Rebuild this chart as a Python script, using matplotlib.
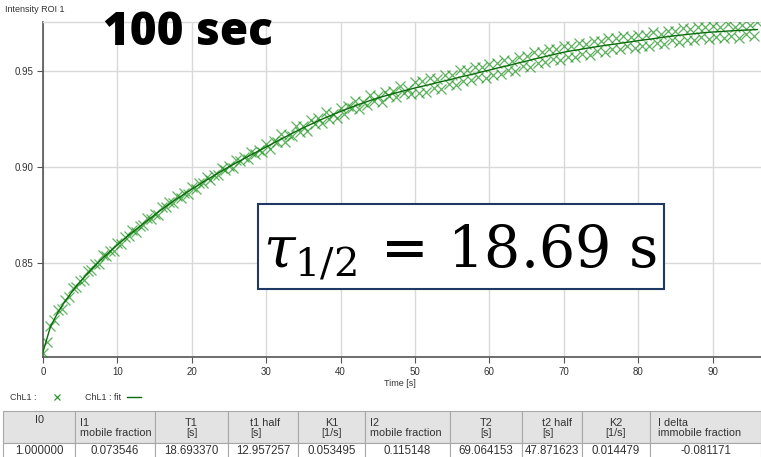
"""
FRAP recovery curve, ROI 1 (100 sec acquisition)
Scatter of measured intensity + fit line, with the fit parameter table below.
"""

import numpy as np
import matplotlib
matplotlib.use("Agg")
import matplotlib.pyplot as plt
from matplotlib.patches import Rectangle
from matplotlib.lines import Line2D

# ─── Data ─────────────────────────────────────────────────────────────────────

DATA_T = np.arange(0, 96.01, 0.5)          # sample times [s]
DATA_I = [
    0.8035, 0.8093, 0.8176, 0.8204, 0.8259, 0.8262, 0.8307, 0.8323, 0.8373, 0.8376,
    0.8410, 0.8412, 0.8460, 0.8465, 0.8497, 0.8496, 0.8542, 0.8537, 0.8565, 0.8565,
    0.8606, 0.8601, 0.8635, 0.8641, 0.8675, 0.8664, 0.8694, 0.8698, 0.8737, 0.8731,
    0.8757, 0.8752, 0.8793, 0.8792, 0.8818, 0.8812, 0.8852, 0.8842, 0.8864, 0.8860,
    0.8896, 0.8886, 0.8916, 0.8918, 0.8948, 0.8933, 0.8959, 0.8960, 0.8995, 0.8985,
    0.9007, 0.8998, 0.9035, 0.9031, 0.9053, 0.9044, 0.9081, 0.9068, 0.9088, 0.9081,
    0.9123, 0.9094, 0.9137, 0.9129, 0.9171, 0.9133, 0.9170, 0.9160, 0.9213, 0.9185,
    0.9214, 0.9187, 0.9245, 0.9227, 0.9257, 0.9230, 0.9287, 0.9253, 0.9279, 0.9257,
    0.9308, 0.9276, 0.9316, 0.9306, 0.9345, 0.9304, 0.9338, 0.9325, 0.9374, 0.9343,
    0.9369, 0.9339, 0.9393, 0.9372, 0.9398, 0.9367, 0.9421, 0.9384, 0.9407, 0.9382,
    0.9444, 0.9388, 0.9447, 0.9392, 0.9466, 0.9410, 0.9461, 0.9407, 0.9479, 0.9432,
    0.9482, 0.9428, 0.9506, 0.9447, 0.9506, 0.9451, 0.9519, 0.9471, 0.9523, 0.9465,
    0.9537, 0.9481, 0.9541, 0.9486, 0.9560, 0.9504, 0.9554, 0.9500, 0.9573, 0.9526,
    0.9576, 0.9522, 0.9600, 0.9541, 0.9600, 0.9545, 0.9613, 0.9565, 0.9616, 0.9558,
    0.9630, 0.9573, 0.9631, 0.9574, 0.9647, 0.9590, 0.9639, 0.9583, 0.9654, 0.9605,
    0.9654, 0.9598, 0.9674, 0.9613, 0.9670, 0.9613, 0.9680, 0.9630, 0.9679, 0.9619,
    0.9690, 0.9632, 0.9689, 0.9632, 0.9704, 0.9646, 0.9695, 0.9639, 0.9709, 0.9660,
    0.9708, 0.9651, 0.9726, 0.9664, 0.9721, 0.9663, 0.9729, 0.9678, 0.9727, 0.9666,
    0.9735, 0.9675, 0.9731, 0.9673, 0.9744, 0.9684, 0.9731, 0.9673, 0.9742, 0.9691,
    0.9738, 0.9680, 0.9754,
]

FIT_T = list(range(0, 97))
FIT_I = [
    0.8040, 0.8170, 0.8245, 0.8305, 0.8358, 0.8405, 0.8448, 0.8488, 0.8526, 0.8562,
    0.8596, 0.8629, 0.8661, 0.8692, 0.8722, 0.8752, 0.8781, 0.8809, 0.8836, 0.8861,
    0.8886, 0.8910, 0.8934, 0.8957, 0.8980, 0.9002, 0.9023, 0.9044, 0.9065, 0.9085,
    0.9105, 0.9126, 0.9146, 0.9166, 0.9186, 0.9205, 0.9223, 0.9241, 0.9258, 0.9274,
    0.9290, 0.9305, 0.9320, 0.9334, 0.9347, 0.9360, 0.9371, 0.9382, 0.9392, 0.9402,
    0.9412, 0.9421, 0.9430, 0.9440, 0.9449, 0.9458, 0.9468, 0.9477, 0.9486, 0.9496,
    0.9505, 0.9515, 0.9524, 0.9533, 0.9543, 0.9552, 0.9562, 0.9571, 0.9580, 0.9589,
    0.9598, 0.9605, 0.9611, 0.9618, 0.9624, 0.9630, 0.9636, 0.9641, 0.9647, 0.9652,
    0.9658, 0.9663, 0.9668, 0.9674, 0.9679, 0.9684, 0.9688, 0.9692, 0.9696, 0.9700,
    0.9703, 0.9705, 0.9708, 0.9710, 0.9712, 0.9714, 0.9716,
]

X_TICKS = [0, 10, 20, 30, 40, 50, 60, 70, 80, 90]
Y_TICKS = [0.85, 0.90, 0.95]

HEADERS = ["I0", "I1\nmobile fraction", "T1\n[s]", "t1 half\n[s]", "K1\n[1/s]",
           "I2\nmobile fraction", "T2\n[s]", "t2 half\n[s]", "K2\n[1/s]",
           "I delta\nimmobile fraction"]
VALUES = ["1.000000", "0.073546", "18.693370", "12.957257", "0.053495",
          "0.115148", "69.064153", "47.871623", "0.014479", "-0.081171"]

# ─── Style ────────────────────────────────────────────────────────────────────

W, H = 761, 457
SMALL = ["Liberation Sans Narrow", "Liberation Sans", "DejaVu Sans"]
GREEN = "#1c921c"
FIT_GREEN = "#0b6b0b"
GRID = "#d9d9d9"

plt.rcParams["mathtext.fontset"] = "dejavuserif"


def fx(px):
    return px / W


def fy(py):
    return 1 - py / H


fig = plt.figure(figsize=(W / 100, H / 100), dpi=100)
ax = fig.add_axes([fx(43), fy(357), fx(761 - 43), (357 - 22) / H])

# ─── Curve ────────────────────────────────────────────────────────────────────

ax.plot(DATA_T, DATA_I, linestyle="none", marker="x", ms=6.5, mew=0.9,
        color=GREEN, alpha=0.7, zorder=3)
ax.plot(FIT_T, FIT_I, color=FIT_GREEN, lw=1.0, zorder=4)

ax.set_xlim(0, 96.5)
ax.set_ylim(0.8013, 0.9755)
ax.set_xticks(X_TICKS)
ax.set_yticks(Y_TICKS)
ax.set_yticklabels([f"{v:.2f}" for v in Y_TICKS])
ax.tick_params(length=4, width=0.8, color="#555555", labelsize=7,
               labelcolor="#333333", pad=3)
for lab in ax.get_xticklabels() + ax.get_yticklabels():
    lab.set_family(SMALL)

ax.grid(True, color=GRID, lw=1.0, zorder=0)
ax.spines["right"].set_visible(False)
ax.spines["top"].set_color(GRID)
ax.spines["top"].set_linewidth(1.0)
for side in ["left", "bottom"]:
    ax.spines[side].set_color("#555555")
    ax.spines[side].set_linewidth(1.2)

fig.text(fx(5), fy(10), "Intensity ROI 1", fontsize=6.5, family=SMALL,
         color="#333333", va="center", ha="left")
fig.text(fx(400), fy(383), "Time [s]", fontsize=6.5, family=SMALL,
         color="#333333", va="center", ha="center")

fig.text(fx(103), fy(45), "100 sec", fontsize=33, family="Open Sans",
         weight="heavy", color="black", va="baseline", ha="left", zorder=6)

# tau box
fig.add_artist(Rectangle((fx(258), fy(289)), fx(406), 85 / H,
                         transform=fig.transFigure, facecolor="white",
                         edgecolor="#1f3864", lw=1.5, zorder=5))
fig.text(fx(460), fy(267), r"$\tau_{1/2}\,=\,18.69\ \mathrm{s}$", fontsize=41,
         color="black", ha="center", va="baseline", zorder=6)

# ─── Legend line ──────────────────────────────────────────────────────────────

fig.text(fx(10), fy(397), "ChL1 :", fontsize=6.5, family=SMALL, color="#333333",
         va="center", ha="left")
fig.add_artist(Line2D([fx(57)], [fy(397)], marker="x", ms=5, mew=0.8,
                      color=GREEN, linestyle="none", transform=fig.transFigure))
fig.text(fx(85), fy(397), "ChL1 : fit", fontsize=6.5, family=SMALL,
         color="#333333", va="center", ha="left")
fig.add_artist(Line2D([fx(127), fx(141)], [fy(397), fy(397)], color=FIT_GREEN,
                      lw=1.0, transform=fig.transFigure))

# ─── Parameter table ──────────────────────────────────────────────────────────

col_edges = [3, 75, 155, 228, 298, 365, 450, 522, 582, 650, 761]
head_top, head_bot, row_bot = 411, 443, 458
left_cols = {1: 5, 3: 22, 5: 5, 7: 20, 9: 8}   # left-aligned headers and indent

for i, (hdr, val) in enumerate(zip(HEADERS, VALUES)):
    x0, x1 = col_edges[i], col_edges[i + 1]
    fig.add_artist(Rectangle((fx(x0), fy(head_bot)), fx(x1 - x0),
                             (head_bot - head_top) / H, transform=fig.transFigure,
                             facecolor="#e3e3e3", edgecolor="#a8a8a8", lw=0.8))
    fig.add_artist(Rectangle((fx(x0), fy(row_bot)), fx(x1 - x0),
                             (row_bot - head_bot) / H, transform=fig.transFigure,
                             facecolor="white", edgecolor="#a8a8a8", lw=0.8))
    if "\n" in hdr:
        if i in left_cols:
            hx, ha = x0 + left_cols[i], "left"
        else:
            hx, ha = (x0 + x1) / 2, "center"
        fig.text(fx(hx), fy((head_top + head_bot) / 2 + 1), hdr, fontsize=7.8,
                 family=SMALL, color="#333333", ha=ha, va="center",
                 multialignment=ha, linespacing=1.05)
    else:
        fig.text(fx((x0 + x1) / 2), fy(head_top + 9), hdr, fontsize=7.8,
                 family=SMALL, color="#333333", ha="center", va="center")
    fig.text(fx((x0 + x1) / 2), fy(451), val, fontsize=8.3, family=SMALL,
             color="#333333", ha="center", va="center")

fig.savefig("out.png", dpi=100)
print("Saved → out.png")
